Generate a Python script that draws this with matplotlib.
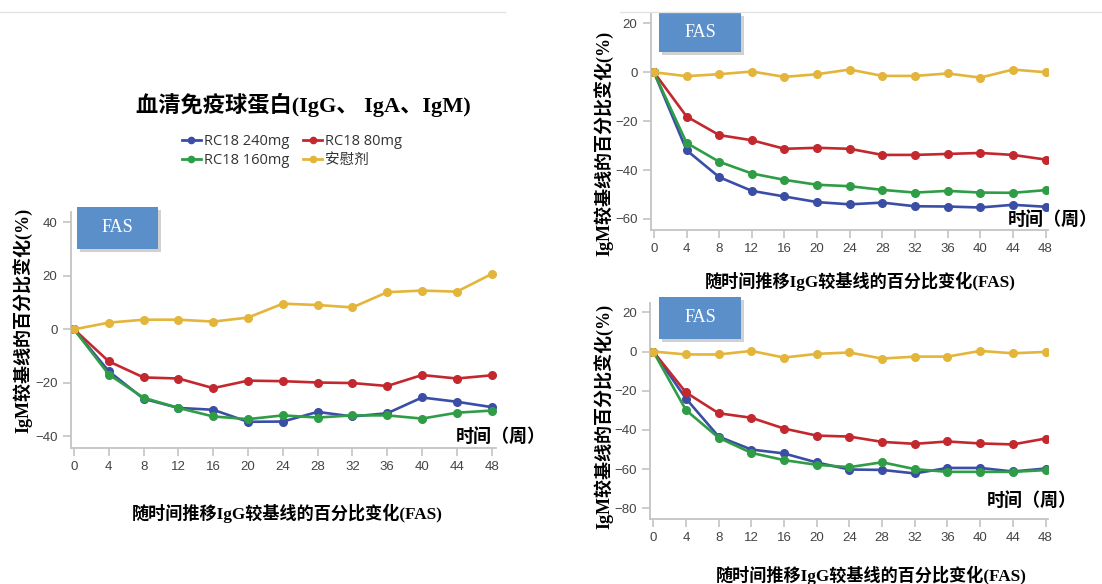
import numpy as np
import matplotlib.pyplot as plt
from matplotlib.patches import Rectangle
from matplotlib.lines import Line2D

W, H = 1102, 584

weeks = [0, 4, 8, 12, 16, 20, 24, 28, 32, 36, 40, 44, 48]
series_names = ["RC18 240mg", "RC18 80mg", "RC18 160mg", "安慰剂"]
colors = ["#3b4ea5", "#c3282f", "#2f9c46", "#e3b53b"]

# left panel: percentage change, order = 240mg, 80mg, 160mg, placebo
left_240 = [0, -15.7, -26.0, -29.4, -30.1, -34.6, -34.5, -30.9, -32.6, -31.4, -25.5, -27.1, -29.1]
left_80 = [0, -12.0, -18.0, -18.4, -22.0, -19.2, -19.4, -19.9, -20.1, -21.2, -17.1, -18.4, -17.2]
left_160 = [0, -16.9, -25.6, -29.4, -32.6, -33.6, -32.2, -33.0, -32.2, -32.2, -33.4, -31.2, -30.4]
left_pbo = [0, 2.5, 3.6, 3.6, 2.9, 4.4, 9.6, 9.1, 8.2, 13.9, 14.5, 14.1, 20.7]

# right top panel
rt_240 = [0, -31.9, -42.9, -48.5, -50.8, -53.1, -54.0, -53.3, -54.8, -54.9, -55.3, -54.2, -55.0]
rt_80 = [0, -18.1, -25.7, -27.8, -31.3, -30.9, -31.3, -33.8, -33.8, -33.4, -33.0, -33.8, -35.7]
rt_160 = [0, -28.9, -36.6, -41.4, -44.0, -46.0, -46.6, -48.1, -49.2, -48.5, -49.2, -49.3, -48.2]
rt_pbo = [0, -1.6, -0.8, 0.3, -1.9, -0.8, 1.1, -1.5, -1.5, -0.5, -2.2, 1.1, 0]

# right bottom panel
rb_240 = [0, -24.0, -43.4, -50.0, -52.0, -56.6, -60.2, -60.4, -62.2, -59.4, -59.4, -61.2, -59.7]
rb_80 = [0, -20.9, -31.5, -33.8, -39.3, -42.9, -43.4, -46.1, -47.1, -45.9, -46.9, -47.4, -44.4]
rb_160 = [0, -29.9, -44.0, -51.7, -55.4, -57.8, -59.0, -56.5, -60.0, -61.4, -61.4, -61.4, -60.5]
rb_pbo = [0, -1.5, -1.5, 0.3, -3.1, -1.2, -0.5, -3.6, -2.6, -2.6, 0.3, -0.9, -0.2]

title = "血清免疫球蛋白(IgG、 IgA、IgM)"
ylab = "IgM较基线的百分比变化(%)"
xlab = "随时间推移IgG较基线的百分比变化(FAS)"
time_lab = "时间（周）"

serif_cjk = ["Liberation Serif", "Noto Sans CJK SC"]
sans_cjk = ["Open Sans", "Noto Sans CJK SC"]

fig = plt.figure(figsize=(W / 100, H / 100), dpi=100)


def px_axes(x0, y0, x1, y1):
    return fig.add_axes([x0 / W, 1 - y1 / H, (x1 - x0) / W, (y1 - y0) / H])


def style(ax, yticks, xlim, ylim):
    for s in ["top", "right"]:
        ax.spines[s].set_visible(False)
    for s in ["left", "bottom"]:
        ax.spines[s].set_color("#c4c4c4")
        ax.spines[s].set_linewidth(1.3)
    ax.set_xlim(*xlim)
    ax.set_ylim(*ylim)
    ax.set_xticks(weeks)
    ax.set_yticks(yticks)
    ax.tick_params(colors="#c4c4c4", labelcolor="#444444", labelsize=9.5, length=6, width=1.2)
    for lab in ax.get_xticklabels() + ax.get_yticklabels():
        lab.set_fontfamily("Liberation Sans")
    ax.set_facecolor("none")


def draw(ax, data):
    for vals, c, name in zip(data, colors, series_names):
        ax.plot(weeks, vals, color=c, lw=1.9, marker="o", ms=5.5, label=name, zorder=3)


def fas_box(x0, y0, x1, y1):
    fig.add_artist(Rectangle(((x0 + 3) / W, 1 - (y1 + 3) / H), (x1 - x0) / W, (y1 - y0) / H,
                             transform=fig.transFigure, color="#9a9a9a", alpha=0.45, lw=0))
    fig.add_artist(Rectangle((x0 / W, 1 - y1 / H), (x1 - x0) / W, (y1 - y0) / H,
                             transform=fig.transFigure, color="#5b8fca", lw=0))
    fig.text((x0 + x1) / 2 / W, 1 - (y0 + y1) / 2 / H, "FAS", color="white",
             family="Liberation Serif", fontsize=13, ha="center", va="center")


# left panel
ax1 = px_axes(70.7, 212, 496, 448)
draw(ax1, [left_240, left_80, left_160, left_pbo])
style(ax1, [-40, -20, 0, 20, 40], (-0.38, 48.5), (-44.4, 43.9))

# right top panel
ax2 = px_axes(650.7, 13.3, 1048, 230)
draw(ax2, [rt_240, rt_80, rt_160, rt_pbo])
style(ax2, [-60, -40, -20, 0, 20], (-0.4, 48.3), (-64.5, 24.1))

# right bottom panel
ax3 = px_axes(650, 303.3, 1048, 519.3)
draw(ax3, [rb_240, rb_80, rb_160, rb_pbo])
style(ax3, [-80, -60, -40, -20, 0, 20], (-0.4, 48.3), (-85.6, 24.6))

fas_box(77, 207, 158, 249)
fas_box(659, 13, 741, 52)
fas_box(659, 297, 741, 339)

# texts
fig.text(303 / W, 1 - 105 / H, title, family=serif_cjk, fontsize=16, weight="bold",
         ha="center", va="center")

for x, y in [(22, 320), (603, 143), (603, 416)]:
    fig.text(x / W, 1 - y / H, ylab, family=serif_cjk, fontsize=13, weight="bold",
             rotation=90, ha="center", va="center")

for x, y in [(456, 437), (1008, 220), (987, 501)]:
    fig.text(x / W, 1 - y / H, time_lab, family=serif_cjk, fontsize=13, weight="bold",
             ha="left", va="center")

for x, y in [(287, 513), (860, 281), (871, 575)]:
    fig.text(x / W, 1 - y / H, xlab, family=serif_cjk, fontsize=12.3, weight="bold",
             ha="center", va="center")

# legend: rows are (240mg, 80mg) and (160mg, placebo); matplotlib fills by column
handles = [Line2D([], [], color=c, lw=2, marker="o", ms=4.5) for c in colors]
order = [0, 2, 1, 3]
leg = fig.legend([handles[i] for i in order], [series_names[i] for i in order], ncol=2,
                 loc="center", bbox_to_anchor=(292 / W, 1 - 151 / H), frameon=False,
                 prop={"family": sans_cjk, "size": 10.5}, handlelength=1.3,
                 handletextpad=0.2, columnspacing=1.0, labelspacing=0.3)
for t in leg.get_texts():
    t.set_color("#333333")

# faint separator lines at the top of the picture
fig.add_artist(Line2D([0, 505 / W], [1 - 12 / H, 1 - 12 / H], color="#e2e2e2", lw=1))
fig.add_artist(Line2D([620 / W, 1], [1 - 12 / H, 1 - 12 / H], color="#e2e2e2", lw=1))

fig.savefig("out.png", dpi=100)
